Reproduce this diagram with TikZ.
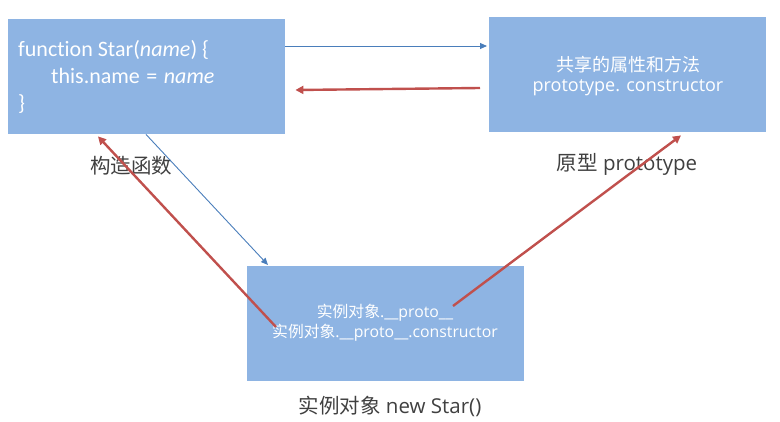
\documentclass[tikz,border=0pt]{standalone}
\usepackage{fontspec}
\setmainfont{Open Sans}
\newfontfamily\cjk{Noto Sans CJK SC}
\newfontfamily\calib[Ligatures={NoCommon,NoRare,NoDiscretionary}]{Carlito}
\usetikzlibrary{arrows.meta,calc}
\definecolor{boxfill}{HTML}{8EB4E3}
\definecolor{bluearr}{HTML}{4A7EBB}
\definecolor{redarr}{HTML}{C0504D}
\definecolor{labelgray}{HTML}{404040}
\begin{document}
\begin{tikzpicture}[x=1pt,y=-1pt,
  box/.style={fill=boxfill,draw=none,minimum width=277pt,minimum height=115pt,inner sep=0pt,anchor=north west},
  boxtext/.style={text=white,align=center,inner sep=0pt},
  codetext/.style={text=white,anchor=base west,inner sep=0pt,font=\calib\fontsize{22}{26}\selectfont},
  lbl/.style={text=labelgray,inner sep=0pt,font=\fontsize{20.5}{24}\selectfont},
  bluearrow/.style={draw=bluearr,line width=0.9pt,-{Triangle[length=7pt,width=6pt]}},
  redarrow/.style={draw=redarr,line width=2.4pt,-{Triangle[length=8pt,width=8pt]}}]
\useasboundingbox (0,0) rectangle (780,422);
\node[box] (ctor) at (8,19) {};
\node[box] (proto) at (489,17) {};
\node[box] (inst) at (247,266) {};
% texts in ctor box
\node[codetext] (c1) at (18,57) {function Star(\textit{name}) \{};
\node[codetext] (c2) at (51,84) {this.name\hspace{6.5pt}=\hspace{6.5pt}\textit{name}};
\node[codetext] (c3) at (18,111) {\}};
% proto box texts
\node[boxtext,font=\fontsize{18}{21}\selectfont] (p1) at (628,65) {\cjk 共享的属性和方法};
\node[boxtext,anchor=base,font=\fontsize{18}{21}\selectfont] (p2) at (628,92) {prototype. constructor};
% instance texts
\node[boxtext,font=\fontsize{15.8}{18}\selectfont] (i1) at (385,313) {{\cjk 实例对象}.\_\_proto\_\_};
\node[boxtext,font=\fontsize{15.8}{18}\selectfont] (i2) at (385,333) {{\cjk 实例对象}.\_\_proto\_\_.constructor};
% labels
\node[lbl] (l1) at (131,166) {\cjk 构造函数};
\node[lbl] (l2) at (627,164) {{\cjk 原型} prototype};
\node[lbl] (l3) at (390,406) {{\cjk 实例对象} new Star()};
% connector points
\coordinate (a1s) at ($(ctor.north east)+(0,27)$);
\coordinate (a1e) at ($(proto.north west)+(-2,29)$);
\coordinate (a2s) at ($(proto.north west)+(-9,71)$);
\coordinate (a2e) at ($(ctor.north east)+(10,71)$);
\coordinate (a3s) at ($(ctor.south west)+(138,0)$);
\coordinate (a3e) at ($(inst.north west)+(21,-1)$);
\coordinate (a4s) at ($(inst.north west)+(29,61)$);
\coordinate (a4e) at ($(ctor.south west)+(90,2)$);
\coordinate (a5s) at ($(inst.north west)+(206,40)$);
\coordinate (a5e) at ($(proto.south west)+(192,3)$);
\draw[bluearrow] (a1s) -- (a1e);
\draw[redarrow] (a2s) -- (a2e);
\draw[bluearrow] (a3s) -- (a3e);
\draw[redarrow] (a4s) -- (a4e);
\draw[redarrow] (a5s) -- (a5e);
\end{tikzpicture}
\end{document}
